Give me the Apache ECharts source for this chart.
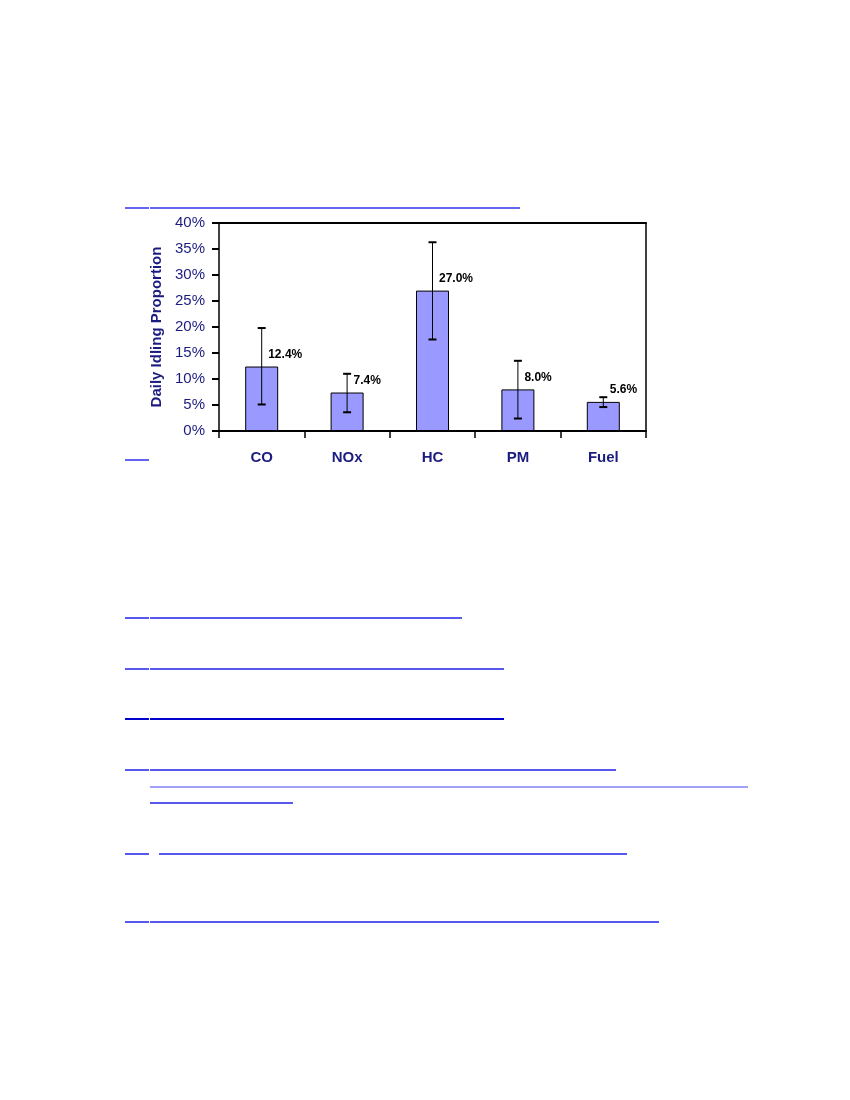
<!DOCTYPE html>
<html>
<head>
<meta charset="utf-8">
<script src="https://cdn.jsdelivr.net/npm/echarts@6/dist/echarts.min.js"></script>
<style>
  html, body { margin: 0; padding: 0; background: #fff; }
  #main { width: 850px; height: 1100px; }
</style>
</head>
<body>
<div id="main"></div>
<script>
// chart data
var categories = ['CO', 'NOx', 'HC', 'PM', 'Fuel'];
var idling = [12.4, 7.4, 27.0, 8.0, 5.6];
var errLow = [5.1, 3.6, 17.6, 2.4, 4.6];
var errHigh = [19.8, 11.0, 36.3, 13.5, 6.5];
var yTicks = { min: 0, max: 40, interval: 5 };

// page underlines (link rules of the document around the chart)
var rules = [
    [125, 149, 208, '#6464f0'], [150, 520, 208, '#6464f0'],
    [125, 149, 460, '#6464f0'],
    [125, 149, 618, '#5858ee'], [150, 462, 618, '#5858ee'],
    [125, 149, 669, '#5858ee'], [150, 504, 669, '#5858ee'],
    [125, 149, 719, '#0000d0'], [150, 504, 719, '#0000d0'],
    [125, 149, 770, '#5858ee'], [150, 616, 770, '#5858ee'],
    [150, 748, 787, '#a0a0f8'],
    [150, 293, 803, '#5858ee'],
    [125, 149, 854, '#5858ee'], [159, 627, 854, '#5858ee'],
    [125, 149, 922, '#5858ee'], [150, 659, 922, '#5858ee']
];

var navy = '#1c1c80';
var font = '"Liberation Sans", Arial, sans-serif';

var myChart = echarts.init(document.getElementById('main'));

var errData = categories.map(function (c, i) {
    return [i, errLow[i], errHigh[i]];
});

var option = {
    backgroundColor: '#fff',
    animation: false,
    textStyle: { fontFamily: font },
    grid: { left: 219, right: 204, top: 223, bottom: 669 },
    graphic: rules.map(function (r) {
        return {
            type: 'line',
            shape: { x1: r[0], y1: r[2], x2: r[1], y2: r[2] },
            style: { stroke: r[3], lineWidth: 2 },
            silent: true
        };
    }),
    xAxis: [{
        type: 'category',
        data: categories,
        axisLine: { lineStyle: { color: '#000', width: 2 } },
        axisTick: { show: true, length: 7, lineStyle: { color: '#000', width: 1.5 } },
        axisLabel: { margin: 19, color: navy, fontSize: 15, fontWeight: 'bold', fontFamily: font }
    }, {
        type: 'category',
        data: categories,
        position: 'top',
        axisLine: { show: true, onZero: false, lineStyle: { color: '#000', width: 2 } },
        axisTick: { show: false },
        axisLabel: { show: false }
    }],
    yAxis: [{
        type: 'value',
        min: yTicks.min,
        max: yTicks.max,
        interval: yTicks.interval,
        name: 'Daily Idling Proportion',
        nameLocation: 'middle',
        nameGap: 55,
        nameTextStyle: { color: navy, fontSize: 15, fontWeight: 'bold', fontFamily: font },
        axisLine: { show: true, lineStyle: { color: '#000', width: 1.5 } },
        axisTick: { show: true, length: 7, lineStyle: { color: '#000', width: 2 } },
        axisLabel: { margin: 14, color: navy, fontSize: 15, fontFamily: font, formatter: '{value}%' },
        splitLine: { show: false }
    }, {
        type: 'value',
        min: yTicks.min,
        max: yTicks.max,
        interval: yTicks.interval,
        position: 'right',
        axisLine: { show: true, onZero: false, lineStyle: { color: '#000', width: 1.5 } },
        axisTick: { show: false },
        axisLabel: { show: false },
        splitLine: { show: false }
    }],
    series: [{
        type: 'bar',
        data: idling,
        barWidth: 33,
        itemStyle: { color: '#9999ff', borderColor: '#000', borderWidth: 1 },
        label: {
            show: true,
            position: [23, -12],
            align: 'left',
            verticalAlign: 'middle',
            color: '#000',
            fontSize: 12,
            fontWeight: 'bold',
            fontFamily: font,
            formatter: function (p) { return p.value.toFixed(1) + '%'; }
        },
        z: 2
    }, {
        type: 'custom',
        data: errData,
        z: 3,
        renderItem: function (params, api) {
            var lo = api.coord([api.value(0), api.value(1)]);
            var hi = api.coord([api.value(0), api.value(2)]);
            var cap = 4;
            var st = { stroke: '#000', lineWidth: 1 };
            var capSt = { stroke: '#000', lineWidth: 2 };
            return {
                type: 'group',
                children: [
                    { type: 'line', shape: { x1: hi[0], y1: hi[1], x2: lo[0], y2: lo[1] }, style: st },
                    { type: 'line', shape: { x1: hi[0] - cap, y1: hi[1], x2: hi[0] + cap, y2: hi[1] }, style: capSt },
                    { type: 'line', shape: { x1: lo[0] - cap, y1: lo[1], x2: lo[0] + cap, y2: lo[1] }, style: capSt }
                ]
            };
        }
    }]
};

myChart.setOption(option);
</script>
</body>
</html>
